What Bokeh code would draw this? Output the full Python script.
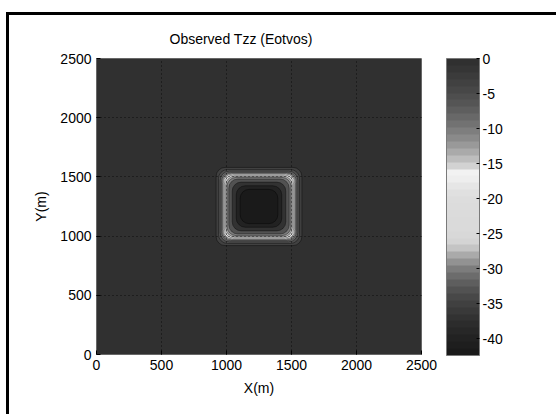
from bokeh.plotting import figure
from bokeh.models import (LinearColorMapper, ColorBar, FixedTicker, AllLabels,
                          ColumnDataSource, Range1d, PrintfTickFormatter)
from bokeh.transform import transform
from bokeh.embed import file_html
from bokeh.resources import INLINE

# ---------------- data ----------------
title_text = "Observed Tzz (Eotvos)"
x_label = "X(m)"
y_label = "Y(m)"
x_ticks = [0, 500, 1000, 1500, 2000, 2500]
y_ticks = [0, 500, 1000, 1500, 2000, 2500]
cbar_ticks = [0, -5, -10, -15, -20, -25, -30, -35, -40]
x_extent = [0, 2500]
y_extent = [0, 2500]
value_min = -42.4
value_max = 0.0

# field far from the body
background_value = -0.3
# centre of the anomaly (m)
anomaly_cx = 1250
anomaly_cy = 1250
# filled contour bands, outside -> inside: half-width (m) and Tzz value (Eotvos)
band_halfwidth = [330, 312, 298, 288, 281, 274, 266, 256, 246, 232, 206, 175, 145]
band_value = [-3.5, -5.5, -8, -11, -14, -16.5, -22, -28, -30.5, -33.5, -36.5, -39.5, -42]

# grey colormap as sampled from the colour bar, from -42 up to 0
palette = [
    "#1a1a1a", "#1e1e1e", "#222222", "#272727", "#2c2c2c", "#323232", "#393939",
    "#404040", "#484848", "#525252", "#5e5e5e", "#6c6c6c", "#7c7c7c", "#929292",
    "#aaaaaa", "#c4c4c4", "#d4d4d4", "#d8d8d8", "#dadada", "#dadada", "#dbdbdb",
    "#dcdcdc", "#dddddd", "#e0e0e0", "#e6e6e6", "#eeeeee", "#f2f2f2", "#d2d2d2",
    "#bdbdbd", "#aaaaaa", "#999999", "#8a8a8a", "#7e7e7e", "#727272", "#686868",
    "#5e5e5e", "#555555", "#4e4e4e", "#474747", "#414141", "#3b3b3b", "#353535",
    "#303030",
]

FONT = "Liberation Sans"

mapper = LinearColorMapper(palette=palette, low=value_min, high=value_max)

# figure sits inside a window frame: black edge drawn as a left/top shadow
p = figure(width=550, height=402, output_backend="svg", toolbar_location=None,
           x_range=Range1d(*x_extent), y_range=Range1d(*y_extent),
           min_border_left=87, min_border_right=138, min_border_top=43,
           min_border_bottom=63, title=title_text,
           margin=(15, 0, 0, 9),
           styles={"box-shadow": "-3px -3px 0px 0px black"})

p.background_fill_color = "white"
p.border_fill_color = "white"
p.outline_line_color = "#7a7a7a"
p.outline_line_width = 1

# background field
bg = ColumnDataSource(dict(left=[x_extent[0]], right=[x_extent[1]],
                           bottom=[y_extent[0]], top=[y_extent[1]],
                           value=[background_value]))
p.quad(left="left", right="right", bottom="bottom", top="top", source=bg,
       fill_color=transform("value", mapper), line_color=None)

# contour bands
bands = ColumnDataSource(dict(
    left=[anomaly_cx - h for h in band_halfwidth],
    right=[anomaly_cx + h for h in band_halfwidth],
    bottom=[anomaly_cy - h for h in band_halfwidth],
    top=[anomaly_cy + h for h in band_halfwidth],
    value=band_value,
))
p.quad(left="left", right="right", bottom="bottom", top="top", source=bands,
       fill_color=transform("value", mapper), line_color="black",
       line_width=0.7, line_alpha=0.55, border_radius=9)

# grid (dotted, drawn on top like MATLAB)
for g in (p.xgrid, p.ygrid):
    g.grid_line_color = "black"
    g.grid_line_dash = "1 3"
    g.grid_line_width = 1
    g.grid_line_alpha = 0.75
    g.level = "overlay"
p.xaxis.ticker = FixedTicker(ticks=x_ticks)
p.yaxis.ticker = FixedTicker(ticks=y_ticks)

for ax in (p.xaxis, p.yaxis):
    ax.axis_line_color = None
    ax.major_tick_in = 4
    ax.major_tick_out = 0
    ax.major_tick_line_color = "black"
    ax.minor_tick_line_color = None
    ax.major_label_text_font = FONT
    ax.major_label_text_font_size = "14px"
    ax.major_label_text_color = "black"
    ax.axis_label_text_font = FONT
    ax.axis_label_text_font_size = "14px"
    ax.axis_label_text_font_style = "normal"
    ax.axis_label_text_color = "black"
p.xaxis.axis_label = x_label
p.yaxis.axis_label = y_label
p.xaxis.major_label_standoff = 5
p.yaxis.major_label_standoff = 5
p.xaxis.axis_label_standoff = 7
p.yaxis.axis_label_standoff = 8
p.yaxis.major_label_orientation = "horizontal"

p.title.text_font = FONT
p.title.text_font_size = "14px"
p.title.text_font_style = "normal"
p.title.text_color = "black"
p.title.align = "left"
p.title.offset = 73
p.title.standoff = 24

# colour bar placed beside the frame (screen offset from frame's bottom-left)
cb = ColorBar(color_mapper=mapper, ticker=FixedTicker(ticks=cbar_ticks),
              formatter=PrintfTickFormatter(format="%d"),
              major_label_policy=AllLabels(),
              width=33, height=297, location=(350, -1), padding=0, margin=0,
              bar_line_color="#7a7a7a", bar_line_width=1,
              major_tick_line_color="black", major_tick_in=3, major_tick_out=0,
              minor_tick_line_color=None, label_standoff=3,
              major_label_text_font=FONT, major_label_text_font_size="14px",
              major_label_text_color="black",
              background_fill_color=None, border_line_color=None)
p.add_layout(cb, "center")

open("out.html", "w").write(file_html(p, INLINE))
